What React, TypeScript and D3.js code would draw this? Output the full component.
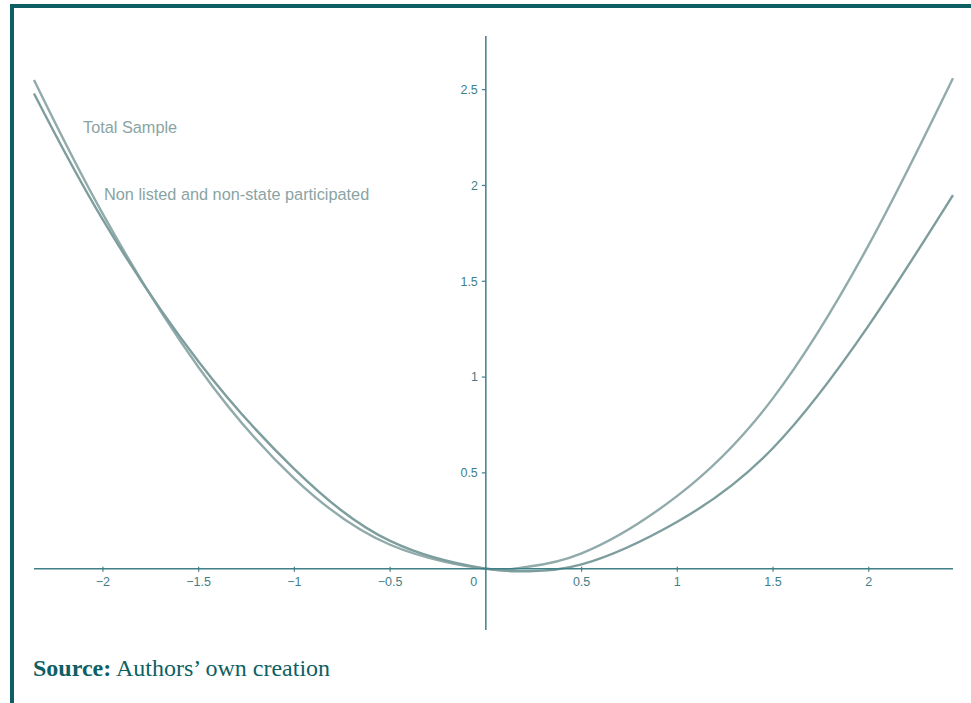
import React from 'react';
import * as d3 from 'd3';

// values
const xSamples = [-2.36, -2, -1.5, -1, -0.5, 0, 0.2, 0.5, 1, 1.5, 2, 2.44];
const upperSeries = [2.55, 1.85, 1.05, 0.47, 0.125, 0, 0.008, 0.08, 0.38, 0.89, 1.69, 2.56];
const lowerSeries = [2.48, 1.82, 1.08, 0.52, 0.145, 0, -0.013, 0.022, 0.245, 0.63, 1.27, 1.95];
const xTicks = [-2, -1.5, -1, -0.5, 0, 0.5, 1, 1.5, 2];
const yTicks = [0.5, 1, 1.5, 2, 2.5];
const legendLabels = ['Total Sample', 'Non listed and non-state participated'];

const W = 971;
const H = 703;
const frame = '#0e5f64';
const axisColor = '#3f8087';
const labelColor = '#3f7f86';

const App: React.FC = () => {
    // same px per unit on both axes, origin at (486, 569)
    const x = d3.scaleLinear().domain([-2.36, 2.44]).range([34, 953]);
    const y = d3.scaleLinear().domain([-0.32, 2.78]).range([630, 36]);
    const fmt = d3.format('');

    const line = d3
        .line<[number, number]>()
        .x((d) => x(d[0]))
        .y((d) => y(d[1]))
        .curve(d3.curveNatural);

    const upperPts = xSamples.map((v, i) => [v, upperSeries[i]] as [number, number]);
    const lowerPts = xSamples.map((v, i) => [v, lowerSeries[i]] as [number, number]);

    const x0 = x(0);
    const y0 = y(0);

    return (
        <svg
            width={W}
            height={H}
            style={{ position: 'absolute', left: 0, top: 0, background: '#fff' }}
        >
            {/* frame */}
            <rect x={10} y={4} width={W - 10} height={4} fill={frame} />
            <rect x={10} y={4} width={4} height={H - 4} fill={frame} />

            {/* curves */}
            <path d={line(upperPts) ?? ''} fill="none" stroke="#91aaaa" strokeWidth={2.4} />
            <path d={line(lowerPts) ?? ''} fill="none" stroke="#7e9d9d" strokeWidth={2.4} />

            {/* axes */}
            <line x1={x.range()[0]} x2={x.range()[1]} y1={y0} y2={y0} stroke={axisColor} strokeWidth={1.5} />
            <line x1={x0} x2={x0} y1={y.range()[1]} y2={y.range()[0]} stroke={axisColor} strokeWidth={1.5} />

            <g fontFamily="'Liberation Sans', Arial, sans-serif" fontSize={12.5} fill={labelColor}>
                {xTicks.map((t) => (
                    <g key={'x' + t}>
                        {t !== 0 && (
                            <line x1={x(t)} x2={x(t)} y1={y0 - 2} y2={y0 + 3} stroke={axisColor} strokeWidth={1.2} />
                        )}
                        <text
                            x={t === 0 ? x0 - 12 : x(t)}
                            y={y0 + 13}
                            dy="0.35em"
                            textAnchor="middle"
                        >
                            {fmt(t)}
                        </text>
                    </g>
                ))}
                {yTicks.map((t) => (
                    <g key={'y' + t}>
                        <line x1={x0 - 4} x2={x0} y1={y(t)} y2={y(t)} stroke={axisColor} strokeWidth={1.2} />
                        <text x={x0 - 8} y={y(t)} dy="0.35em" textAnchor="end">
                            {fmt(t)}
                        </text>
                    </g>
                ))}
            </g>

            {/* curve labels */}
            <g fontFamily="'Liberation Sans', Arial, sans-serif" fontSize={16.3} fill="#8aa4a4">
                <text x={83} y={133}>{legendLabels[0]}</text>
                <text x={104} y={200}>{legendLabels[1]}</text>
            </g>

            {/* source note */}
            <text
                x={33}
                y={676}
                fontFamily="'Liberation Serif', 'Times New Roman', serif"
                fontSize={24}
                fill={frame}
            >
                <tspan fontWeight="bold">Source:</tspan> Authors’ own creation
            </text>
        </svg>
    );
};

export default App;
